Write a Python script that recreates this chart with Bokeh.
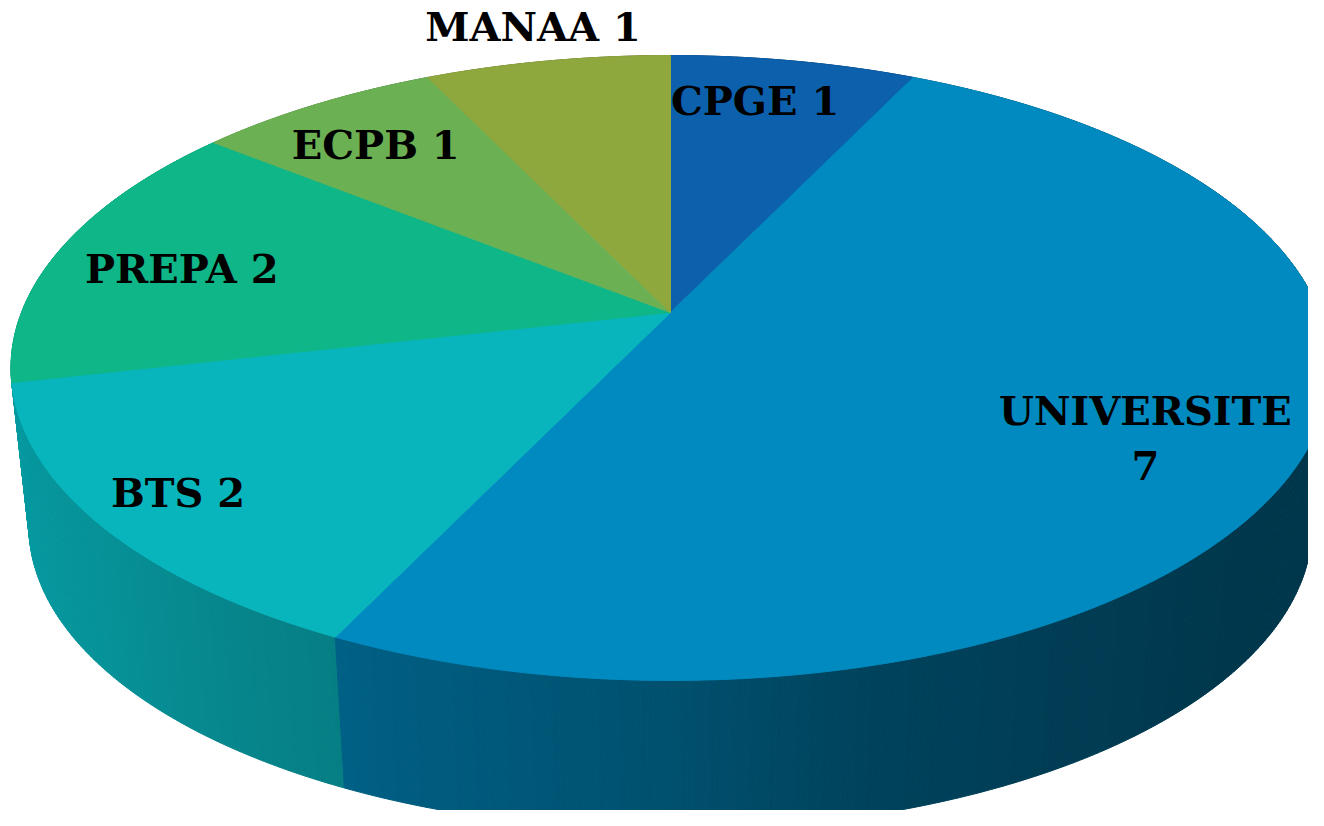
import numpy as np
from bokeh.plotting import figure
from bokeh.models import Range1d, ColumnDataSource
from bokeh.core.properties import value
from bokeh.embed import file_html
from bokeh.resources import INLINE

# ---------------- data ----------------
categories = ["CPGE", "UNIVERSITE", "BTS", "PREPA", "ECPB", "MANAA"]
counts = [1, 7, 2, 2, 1, 1]
label_texts = ["CPGE 1", "UNIVERSITE\n7", "BTS 2", "PREPA 2", "ECPB 1", "MANAA 1"]
colors = ["#0C60AC", "#008ABF", "#08B5BD", "#0EB688", "#6CB054", "#8FA83E"]

# label placement (fraction of radius, pixel nudges)
label_r = [0.81, 0.79, 0.87, 0.79, 0.78, 1.16]
label_dx = [-18, -17, -4, -4, -10, 2]
label_dy = [-2, 15, -2, 8, -1, -1]

# ---------------- 3D projection (screen pixel space) ----------------
CX, CY = 670.0, 312.0      # projected pie centre
A, B, K = 649.0, 302.6, 0.1776
VX, VY, T = 670.0, 6185.0, 0.0272   # vertical vanishing point and thickness


def proj(theta_deg, r=1.0):
    th = np.radians(theta_deg)
    u = r * np.sin(th)
    v = r * np.cos(th)
    d = 1 + K * v
    return CX + A * u / d, CY - B * v / d


def drop(x, y):
    return x + T * (VX - x), y + T * (VY - y)


def shade(hexcol, f):
    h = hexcol.lstrip("#")
    rgb = [int(h[i:i + 2], 16) for i in (0, 2, 4)]
    return "#%02x%02x%02x" % tuple(max(0, min(255, int(round(c * f)))) for c in rgb)


SH_T = [0, 90, 130, 165, 180, 206, 230, 262, 300, 360]
SH_F = [0.5, 0.40, 0.40, 0.48, 0.58, 0.70, 0.80, 0.87, 0.8, 0.5]

total = float(sum(counts))
bounds = np.concatenate([[0.0], np.cumsum(counts) / total * 360.0])

# ---------------- figure ----------------
W, H = 1308, 810
p = figure(width=W, height=H, output_backend="svg", toolbar_location=None,
           x_range=Range1d(0, W), y_range=Range1d(H, 0),
           min_border=0)
p.axis.visible = False
p.grid.visible = False
p.outline_line_color = None
p.background_fill_color = "white"
p.border_fill_color = "white"

# side wall strips
quads = []
for i, c in enumerate(colors):
    a0, a1 = bounds[i], bounds[i + 1]
    n = max(2, int(np.ceil((a1 - a0) / 0.5)))
    ts = np.linspace(a0, a1, n + 1)
    for j in range(n):
        ta, tb = ts[j], ts[j + 1]
        xa, ya = proj(ta)
        xb, yb = proj(tb)
        qxa, qya = drop(xa, ya)
        qxb, qyb = drop(xb, yb)
        tm = 0.5 * (ta + tb)
        f = float(np.interp(tm % 360, SH_T, SH_F))
        col = shade(c, f)
        quads.append((np.cos(np.radians(tm)), [xa, xb, qxb, qxa], [ya, yb, qyb, qya], col))
quads.sort(key=lambda q: -q[0])
side_src = ColumnDataSource(dict(xs=[q[1] for q in quads], ys=[q[2] for q in quads],
                                 col=[q[3] for q in quads]))
p.patches("xs", "ys", source=side_src, fill_color="col", line_color="col", line_width=1)

# top faces
top_xs, top_ys = [], []
for i in range(len(counts)):
    a0, a1 = bounds[i], bounds[i + 1]
    ts = np.linspace(a0, a1, max(3, int((a1 - a0) / 0.5) + 1))
    ex, ey = proj(ts)
    top_xs.append([CX] + list(ex))
    top_ys.append([CY] + list(ey))
top_src = ColumnDataSource(dict(xs=top_xs, ys=top_ys, col=colors))
p.patches("xs", "ys", source=top_src, fill_color="col", line_color="col", line_width=1)

# labels
lx, ly = [], []
for i in range(len(counts)):
    mid = 0.5 * (bounds[i] + bounds[i + 1])
    x, y = proj(mid, label_r[i])
    lx.append(float(x) + label_dx[i])
    ly.append(float(y) + label_dy[i])
lab_src = ColumnDataSource(dict(x=lx, y=ly, t=label_texts))
p.text("x", "y", text="t", source=lab_src, text_font=value("DejaVu Serif"),
       text_font_style="bold", text_font_size="40px", text_color="black",
       text_align="center", text_baseline="middle", text_line_height=1.18)

open("out.html", "w").write(file_html(p, INLINE))
